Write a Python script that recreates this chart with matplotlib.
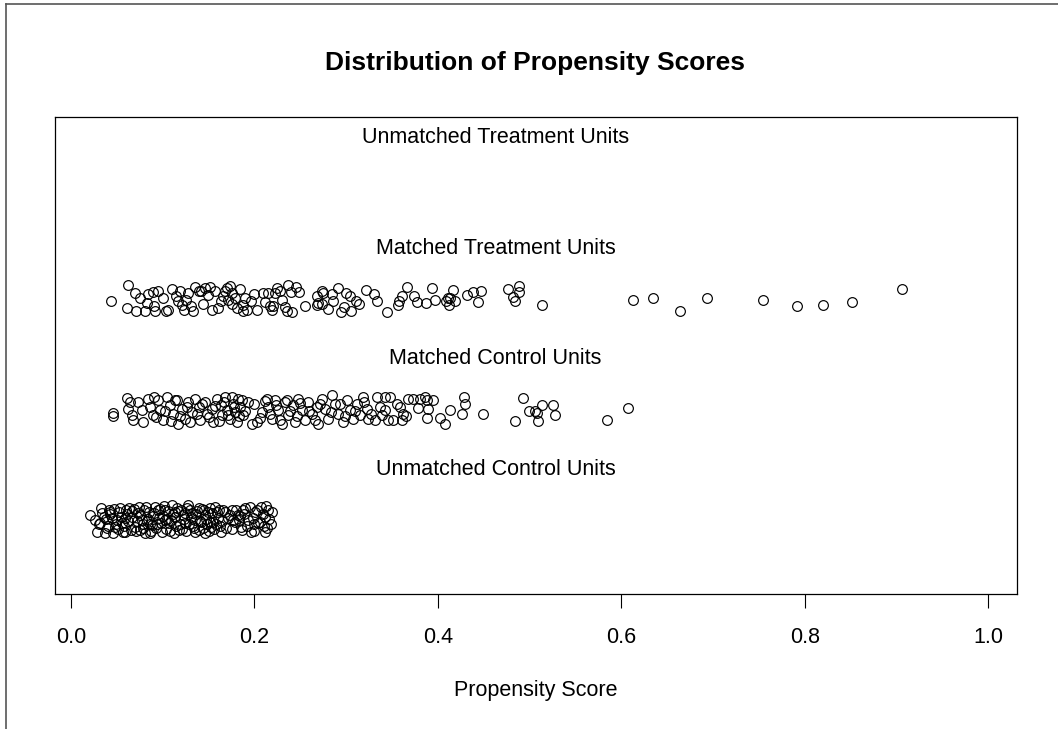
import numpy as np
import matplotlib
matplotlib.use("Agg")
import matplotlib.pyplot as plt
from matplotlib.lines import Line2D

plt.rcParams['font.family'] = ['Liberation Sans', 'DejaVu Sans']

# propensity scores, with the vertical jitter of each point
treated_x = [0.044, 0.062, 0.070, 0.061, 0.071, 0.081, 0.083, 0.084, 0.089, 0.095,
             0.092, 0.100, 0.104, 0.106, 0.115, 0.117, 0.119, 0.121, 0.127, 0.123,
             0.133, 0.135, 0.139, 0.142, 0.146, 0.149, 0.154, 0.157, 0.163, 0.166,
             0.170, 0.173, 0.176, 0.171, 0.179, 0.181, 0.187, 0.188, 0.192, 0.196,
             0.203, 0.209, 0.215, 0.217,
             0.225, 0.222, 0.228, 0.237, 0.240, 0.249, 0.220, 0.219, 0.233, 0.236,
             0.241, 0.274, 0.275, 0.268, 0.269, 0.268, 0.274, 0.286, 0.280, 0.291,
             0.300, 0.304, 0.311, 0.314, 0.294, 0.305, 0.322, 0.334, 0.345, 0.357,
             0.358, 0.361, 0.366, 0.374, 0.377, 0.387, 0.394, 0.397, 0.409, 0.413,
             0.416, 0.411, 0.419, 0.412, 0.432, 0.438, 0.447, 0.444, 0.477, 0.489,
             0.488, 0.482, 0.484, 0.514,
             0.613, 0.635, 0.664, 0.694, 0.755, 0.792, 0.820, 0.852, 0.906,
             0.075, 0.090, 0.110, 0.125, 0.131, 0.144, 0.152, 0.160, 0.168, 0.175,
             0.184, 0.190, 0.200, 0.212, 0.230, 0.245, 0.255, 0.285, 0.298, 0.330]
treated_y = [2.494, 2.639, 2.566, 2.430, 2.403, 2.403, 2.476, 2.557, 2.575, 2.584,
             2.403, 2.521, 2.403, 2.412, 2.539, 2.494, 2.584, 2.457, 2.566, 2.412,
             2.403, 2.620, 2.584, 2.584, 2.611, 2.548, 2.412, 2.584, 2.494, 2.539,
             2.611, 2.630, 2.566, 2.503, 2.521, 2.430, 2.403, 2.457, 2.412, 2.494,
             2.412, 2.566, 2.566, 2.448,
             2.611, 2.566, 2.584, 2.639, 2.575, 2.575, 2.448, 2.412, 2.439, 2.403,
             2.394, 2.584, 2.566, 2.539, 2.476, 2.457, 2.466, 2.494, 2.421, 2.611,
             2.566, 2.539, 2.494, 2.466, 2.394, 2.403, 2.593, 2.494, 2.394, 2.457,
             2.494, 2.539, 2.620, 2.539, 2.485, 2.476, 2.611, 2.503, 2.494, 2.521,
             2.593, 2.521, 2.494, 2.457, 2.548, 2.575, 2.584, 2.485, 2.602, 2.630,
             2.575, 2.530, 2.494, 2.457,
             2.503, 2.521, 2.403, 2.521, 2.503, 2.448, 2.457, 2.485, 2.602,
             2.520, 2.450, 2.600, 2.500, 2.450, 2.470, 2.620, 2.430, 2.580, 2.470,
             2.600, 2.520, 2.560, 2.480, 2.500, 2.620, 2.450, 2.560, 2.440, 2.560]

control_x = [0.046, 0.046, 0.061, 0.064, 0.062, 0.066, 0.068, 0.073, 0.077, 0.079,
             0.084, 0.086, 0.089, 0.095, 0.097, 0.100, 0.105, 0.108, 0.111, 0.116,
             0.117, 0.121, 0.124, 0.128, 0.132, 0.135, 0.139, 0.141, 0.146, 0.148,
             0.154, 0.155, 0.159, 0.163, 0.165, 0.168, 0.170, 0.173, 0.177, 0.179,
             0.181,
             0.182, 0.184, 0.188, 0.193, 0.197, 0.203, 0.208, 0.214, 0.215, 0.219,
             0.222, 0.226, 0.230, 0.233, 0.237, 0.242, 0.244, 0.248, 0.252, 0.255,
             0.258, 0.263, 0.268, 0.269, 0.274, 0.277, 0.280, 0.285, 0.288, 0.291,
             0.297, 0.301, 0.304, 0.308, 0.312, 0.315, 0.318, 0.323, 0.324,
             0.334, 0.337, 0.339, 0.332, 0.342, 0.342, 0.348, 0.346, 0.351, 0.359,
             0.361, 0.362, 0.368, 0.373, 0.381, 0.386, 0.388, 0.389, 0.388, 0.413,
             0.408, 0.428, 0.430, 0.426, 0.449,
             0.493, 0.514, 0.526, 0.499, 0.506, 0.508, 0.528, 0.484, 0.509, 0.585,
             0.607,
             0.090, 0.093, 0.102, 0.109, 0.113, 0.119, 0.126, 0.130, 0.137, 0.143,
             0.150, 0.157, 0.161, 0.167, 0.171, 0.175, 0.178, 0.183, 0.186, 0.190,
             0.199, 0.206, 0.211, 0.217, 0.224, 0.228, 0.235, 0.239, 0.246, 0.250,
             0.260, 0.266, 0.272, 0.283, 0.293, 0.299, 0.310, 0.320, 0.327, 0.355,
             0.365, 0.378, 0.395, 0.402]
control_y = [1.479, 1.452, 1.615, 1.579, 1.515, 1.461, 1.416, 1.579, 1.506, 1.398,
             1.606, 1.534, 1.461, 1.597, 1.506, 1.416, 1.624, 1.552, 1.470, 1.597,
             1.380, 1.515, 1.425, 1.579, 1.488, 1.606, 1.534, 1.416, 1.579, 1.470,
             1.515, 1.398, 1.606, 1.552, 1.461, 1.624, 1.506, 1.425, 1.561, 1.488,
             1.398,
             1.606, 1.534, 1.461, 1.579, 1.380, 1.398, 1.488, 1.606, 1.534, 1.425,
             1.597, 1.506, 1.380, 1.579, 1.461, 1.552, 1.398, 1.606, 1.506, 1.416,
             1.579, 1.470, 1.534, 1.380, 1.606, 1.515, 1.425, 1.642, 1.561, 1.470,
             1.398, 1.597, 1.506, 1.425, 1.561, 1.461, 1.624, 1.515, 1.425,
             1.624, 1.534, 1.461, 1.416, 1.624, 1.506, 1.624, 1.416, 1.416, 1.534,
             1.416, 1.470, 1.606, 1.606, 1.606, 1.624, 1.597, 1.515, 1.434, 1.506,
             1.380, 1.624, 1.561, 1.470, 1.470,
             1.615, 1.552, 1.552, 1.497, 1.497, 1.479, 1.461, 1.407, 1.407, 1.416,
             1.524,
             1.620, 1.440, 1.500, 1.405, 1.600, 1.450, 1.530, 1.395, 1.470, 1.560,
             1.440, 1.540, 1.410, 1.580, 1.460, 1.620, 1.530, 1.450, 1.600, 1.500,
             1.560, 1.430, 1.590, 1.470, 1.550, 1.420, 1.600, 1.500, 1.450, 1.570,
             1.500, 1.420, 1.560, 1.490, 1.560, 1.450, 1.500, 1.580, 1.470, 1.560,
             1.450, 1.520, 1.600, 1.430]

unmatched_x = [0.021, 0.026, 0.028, 0.037, 0.034, 0.041, 0.045, 0.048, 0.052, 0.056,
               0.059, 0.063, 0.067, 0.070, 0.074, 0.077, 0.081, 0.085, 0.088, 0.092,
               0.096, 0.099, 0.103, 0.107, 0.110, 0.113, 0.118,
               0.120, 0.124, 0.128, 0.131, 0.135, 0.139, 0.142, 0.146, 0.149, 0.153,
               0.157, 0.160, 0.164, 0.168, 0.173, 0.177, 0.182, 0.185, 0.190, 0.193,
               0.196, 0.201, 0.204, 0.207, 0.212, 0.214, 0.215,
               0.032, 0.036, 0.039, 0.043, 0.046, 0.050, 0.053, 0.058, 0.061, 0.065,
               0.069, 0.072, 0.075, 0.079, 0.082, 0.084, 0.087, 0.091, 0.094, 0.097,
               0.100, 0.104, 0.106, 0.109, 0.112, 0.116, 0.119, 0.122, 0.125, 0.130,
               0.133, 0.136, 0.140, 0.143, 0.147, 0.150, 0.154, 0.158, 0.161, 0.165,
               0.135, 0.086, 0.059, 0.113, 0.146, 0.075, 0.103, 0.124, 0.152, 0.051,
               0.180, 0.183, 0.186, 0.189, 0.192, 0.195, 0.198, 0.200, 0.203, 0.206,
               0.209, 0.211, 0.213, 0.216, 0.218, 0.219, 0.210, 0.199, 0.187, 0.184,
               0.062, 0.066, 0.071, 0.073, 0.078, 0.080, 0.083, 0.086, 0.089, 0.093,
               0.095, 0.098, 0.101, 0.105, 0.108, 0.111, 0.114, 0.117, 0.121, 0.123,
               0.126, 0.129, 0.132, 0.134, 0.137, 0.141, 0.144, 0.145, 0.148, 0.151,
               0.155, 0.156, 0.159, 0.162, 0.166, 0.169, 0.171, 0.175, 0.176, 0.179,
               0.030, 0.033, 0.038, 0.040, 0.042, 0.047, 0.049, 0.054, 0.057, 0.060]
unmatched_y = [0.555, 0.510, 0.401, 0.392, 0.573, 0.601, 0.528, 0.447, 0.582, 0.483,
               0.401, 0.619, 0.537, 0.447, 0.628, 0.510, 0.392, 0.582, 0.465, 0.628,
               0.528, 0.401, 0.601, 0.483, 0.646, 0.537, 0.419,
               0.601, 0.483, 0.646, 0.537, 0.401, 0.619, 0.492, 0.392, 0.582, 0.447,
               0.628, 0.528, 0.401, 0.582, 0.555, 0.510, 0.555, 0.447, 0.619, 0.510,
               0.401, 0.582, 0.483, 0.628, 0.537, 0.438, 0.601,
               0.483, 0.537, 0.438, 0.582, 0.392, 0.510, 0.619, 0.456, 0.564, 0.419,
               0.610, 0.501, 0.555, 0.438, 0.628, 0.519, 0.410, 0.573, 0.474, 0.610,
               0.546, 0.428, 0.592, 0.510, 0.392, 0.619, 0.474, 0.555, 0.410, 0.601,
               0.456, 0.564, 0.419, 0.610, 0.519, 0.410, 0.573, 0.474, 0.601, 0.501,
               0.510, 0.474, 0.528, 0.582, 0.555, 0.419, 0.510, 0.573, 0.492, 0.428,
               0.601, 0.510, 0.420, 0.565, 0.455, 0.625, 0.530, 0.410, 0.600, 0.495,
               0.560, 0.405, 0.640, 0.520, 0.470, 0.580, 0.455, 0.470, 0.600, 0.545,
               0.500, 0.590, 0.415, 0.575, 0.470, 0.600, 0.505, 0.395, 0.545, 0.440,
               0.600, 0.485, 0.640, 0.520, 0.410, 0.565, 0.455, 0.595, 0.430, 0.520,
               0.620, 0.470, 0.575, 0.440, 0.590, 0.505, 0.440, 0.600, 0.470, 0.620,
               0.495, 0.430, 0.580, 0.460, 0.600, 0.440, 0.530, 0.600, 0.430, 0.495,
               0.470, 0.620, 0.520, 0.455, 0.560, 0.610, 0.470, 0.540, 0.405, 0.600]

group_labels = ["Unmatched Treatment Units", "Matched Treatment Units",
                "Matched Control Units", "Unmatched Control Units"]
label_y = [4, 3, 2, 1]
label_x = 0.463  # middle of the range of the scores
x_ticks = [0.0, 0.2, 0.4, 0.6, 0.8, 1.0]

fig = plt.figure(figsize=(10.58, 7.29), dpi=100)
ax = fig.add_axes([55 / 1058, 1 - 594 / 729, (1017 - 55) / 1058, (594 - 117) / 729])

style = dict(marker='o', linestyle='none', markersize=7, markerfacecolor='none',
             markeredgecolor='black', markeredgewidth=0.85)
ax.plot(treated_x, treated_y, **style)
ax.plot(control_x, control_y, **style)
ax.plot(unmatched_x, unmatched_y, **style)

for lab, yy in zip(group_labels, label_y):
    ax.text(label_x, yy - 0.03, lab, ha='center', va='center', fontsize=15.5)

ax.set_xlim(-0.0175, 1.0316)
ax.set_ylim(-0.16, 4.16)
ax.set_xticks(x_ticks)
ax.set_xticklabels([f"{t:.1f}" for t in x_ticks], fontsize=15.5)
ax.set_yticks([])
ax.tick_params(axis='x', length=10, width=0.8, pad=14)
for sp in ax.spines.values():
    sp.set_linewidth(0.9)
ax.set_xlabel("Propensity Score", fontsize=15.5, labelpad=23)
fig.text(535 / 1058, 1 - 63 / 729, "Distribution of Propensity Scores",
         ha='center', va='center', fontsize=19, fontweight='bold')

# screenshot frame on the top and left edges
fig.add_artist(Line2D([6 / 1058, 6 / 1058], [0, 1 - 4 / 729], color='#555555', lw=1.2))
fig.add_artist(Line2D([6 / 1058, 1], [1 - 4 / 729, 1 - 4 / 729], color='#555555', lw=1.2))

fig.savefig("out.png", dpi=100)
